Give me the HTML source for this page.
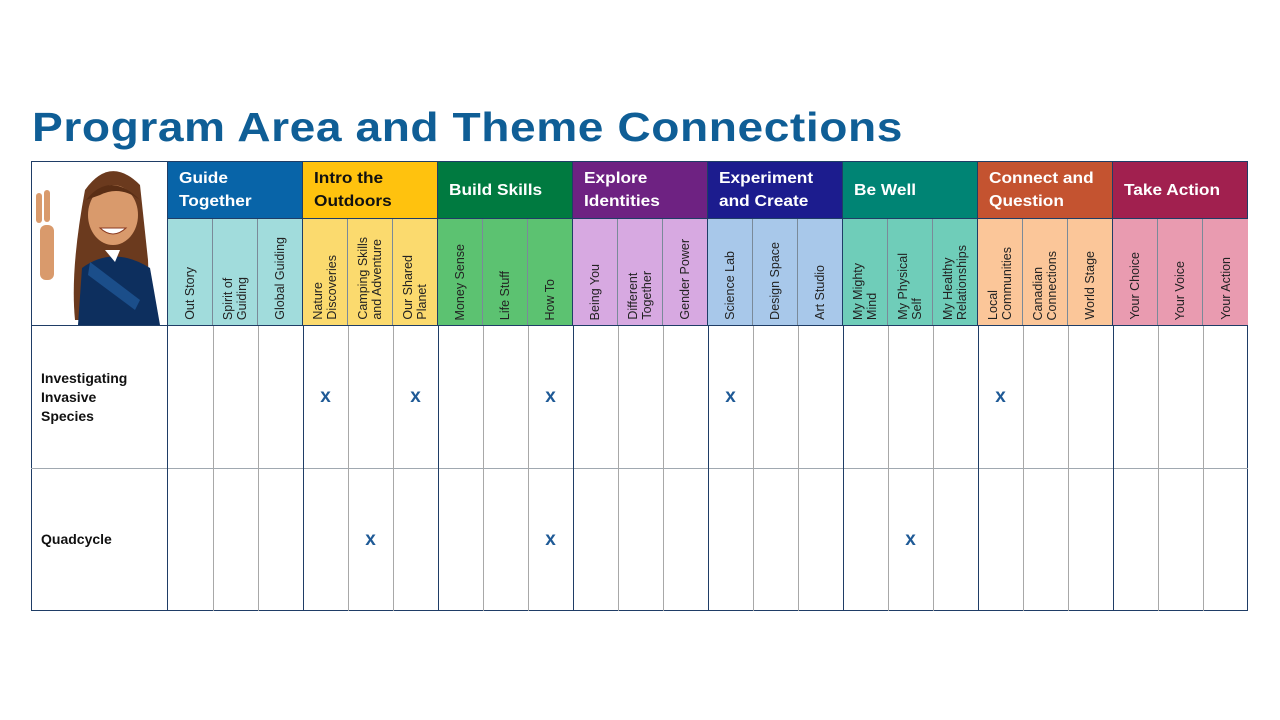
<!DOCTYPE html>
<html><head><meta charset="utf-8"><style>
body{margin:0;width:1280px;height:720px;background:#fff;position:relative;overflow:hidden;font-family:"Liberation Sans",sans-serif}
.a{position:absolute;box-sizing:border-box}
.title{left:32px;top:104px;font-size:41px;font-weight:bold;color:#0f5e96;letter-spacing:0.5px;transform:scaleX(1.125);transform-origin:left top;white-space:nowrap}
.h{color:#fff;font-weight:bold;font-size:16px;line-height:23px;padding-left:11px;display:flex;align-items:center;border-right:1px solid #1f3d66}
.h b{display:inline-block;transform:scaleX(1.08);transform-origin:left center}
.s{border-right:1px solid #7a8a99;display:flex;justify-content:center;align-items:flex-end;padding-bottom:5px}
.s span{writing-mode:vertical-rl;transform:rotate(180deg);font-size:12.5px;line-height:14px;color:#222;white-space:nowrap}
.x{color:#1f5a96;font-weight:bold;font-size:19px;width:45px;text-align:center}
.rl{font-weight:bold;font-size:14px;line-height:19px;color:#111}
</style></head><body>
<div class="a title">Program Area and Theme Connections</div>
<div class="a" style="left:31px;top:161px;width:1217px;height:450px;border:1px solid #1f3d66"></div>

<div class="a h" style="left:168px;top:162px;width:135px;height:56px;background:#0864a8"><b>Guide<br>Together</b></div>
<div class="a h" style="left:303px;top:162px;width:135px;height:56px;background:#ffc20e;color:#111"><b>Intro the<br>Outdoors</b></div>
<div class="a h" style="left:438px;top:162px;width:135px;height:56px;background:#007a40"><b>Build Skills</b></div>
<div class="a h" style="left:573px;top:162px;width:135px;height:56px;background:#6e2282"><b>Explore<br>Identities</b></div>
<div class="a h" style="left:708px;top:162px;width:135px;height:56px;background:#1c1c8e"><b>Experiment<br>and Create</b></div>
<div class="a h" style="left:843px;top:162px;width:135px;height:56px;background:#008474"><b>Be Well</b></div>
<div class="a h" style="left:978px;top:162px;width:135px;height:56px;background:#c45330"><b>Connect and<br>Question</b></div>
<div class="a h" style="left:1113px;top:162px;width:135px;height:56px;background:#a1204f"><b>Take Action</b></div>

<div class="a" style="left:168px;top:218px;width:1080px;height:1px;background:#1f3d66"></div>

<div class="a s" style="left:168px;top:219px;width:45px;height:106px;background:#a1dcdc"><span>Out Story</span></div>
<div class="a s" style="left:213px;top:219px;width:45px;height:106px;background:#a1dcdc"><span>Spirit of<br>Guiding</span></div>
<div class="a s" style="left:258px;top:219px;width:45px;height:106px;background:#a1dcdc;border-right-color:#1f3d66"><span>Global Guiding</span></div>
<div class="a s" style="left:303px;top:219px;width:45px;height:106px;background:#fbda6e"><span>Nature<br>Discoveries</span></div>
<div class="a s" style="left:348px;top:219px;width:45px;height:106px;background:#fbda6e"><span>Camping Skills<br>and Adventure</span></div>
<div class="a s" style="left:393px;top:219px;width:45px;height:106px;background:#fbda6e;border-right-color:#1f3d66"><span>Our Shared<br>Planet</span></div>
<div class="a s" style="left:438px;top:219px;width:45px;height:106px;background:#5cc271"><span>Money Sense</span></div>
<div class="a s" style="left:483px;top:219px;width:45px;height:106px;background:#5cc271"><span>Life Stuff</span></div>
<div class="a s" style="left:528px;top:219px;width:45px;height:106px;background:#5cc271;border-right-color:#1f3d66"><span>How To</span></div>
<div class="a s" style="left:573px;top:219px;width:45px;height:106px;background:#d7a9e1"><span>Being You</span></div>
<div class="a s" style="left:618px;top:219px;width:45px;height:106px;background:#d7a9e1"><span>Different<br>Together</span></div>
<div class="a s" style="left:663px;top:219px;width:45px;height:106px;background:#d7a9e1;border-right-color:#1f3d66"><span>Gender Power</span></div>
<div class="a s" style="left:708px;top:219px;width:45px;height:106px;background:#a8c8ea"><span>Science Lab</span></div>
<div class="a s" style="left:753px;top:219px;width:45px;height:106px;background:#a8c8ea"><span>Design Space</span></div>
<div class="a s" style="left:798px;top:219px;width:45px;height:106px;background:#a8c8ea;border-right-color:#1f3d66"><span>Art Studio</span></div>
<div class="a s" style="left:843px;top:219px;width:45px;height:106px;background:#6fcdb9"><span>My Mighty<br>Mind</span></div>
<div class="a s" style="left:888px;top:219px;width:45px;height:106px;background:#6fcdb9"><span>My Physical<br>Self</span></div>
<div class="a s" style="left:933px;top:219px;width:45px;height:106px;background:#6fcdb9;border-right-color:#1f3d66"><span>My Healthy<br>Relationships</span></div>
<div class="a s" style="left:978px;top:219px;width:45px;height:106px;background:#fbc699"><span>Local<br>Communities</span></div>
<div class="a s" style="left:1023px;top:219px;width:45px;height:106px;background:#fbc699"><span>Canadian<br>Connections</span></div>
<div class="a s" style="left:1068px;top:219px;width:45px;height:106px;background:#fbc699;border-right-color:#1f3d66"><span>World Stage</span></div>
<div class="a s" style="left:1113px;top:219px;width:45px;height:106px;background:#e99bb0"><span>Your Choice</span></div>
<div class="a s" style="left:1158px;top:219px;width:45px;height:106px;background:#e99bb0"><span>Your Voice</span></div>
<div class="a s" style="left:1203px;top:219px;width:45px;height:106px;background:#e99bb0;border-right:none"><span>Your Action</span></div>

<div class="a" style="left:31px;top:325px;width:1217px;height:1px;background:#1f3d66"></div>
<div class="a" style="left:31px;top:468px;width:1217px;height:1px;background:#a0a8b0"></div>
<div class="a" style="left:167px;top:161px;width:1px;height:450px;background:#1f3d66"></div>
<svg class="a" style="left:0;top:0" width="1280" height="720">
<g stroke="#a8a8a8" stroke-width="1">
<line x1="213.5" y1="326" x2="213.5" y2="611"/><line x1="258.5" y1="326" x2="258.5" y2="611"/>
<line x1="348.5" y1="326" x2="348.5" y2="611"/><line x1="393.5" y1="326" x2="393.5" y2="611"/>
<line x1="483.5" y1="326" x2="483.5" y2="611"/><line x1="528.5" y1="326" x2="528.5" y2="611"/>
<line x1="618.5" y1="326" x2="618.5" y2="611"/><line x1="663.5" y1="326" x2="663.5" y2="611"/>
<line x1="753.5" y1="326" x2="753.5" y2="611"/><line x1="798.5" y1="326" x2="798.5" y2="611"/>
<line x1="888.5" y1="326" x2="888.5" y2="611"/><line x1="933.5" y1="326" x2="933.5" y2="611"/>
<line x1="1023.5" y1="326" x2="1023.5" y2="611"/><line x1="1068.5" y1="326" x2="1068.5" y2="611"/>
<line x1="1158.5" y1="326" x2="1158.5" y2="611"/><line x1="1203.5" y1="326" x2="1203.5" y2="611"/>
</g>
<g stroke="#1f3d66" stroke-width="1">
<line x1="303.5" y1="326" x2="303.5" y2="611"/><line x1="438.5" y1="326" x2="438.5" y2="611"/>
<line x1="573.5" y1="326" x2="573.5" y2="611"/><line x1="708.5" y1="326" x2="708.5" y2="611"/>
<line x1="843.5" y1="326" x2="843.5" y2="611"/><line x1="978.5" y1="326" x2="978.5" y2="611"/>
<line x1="1113.5" y1="326" x2="1113.5" y2="611"/>
</g>
<path d="M85 190 Q110 155 140 185 L148 260 Q150 300 140 320 L75 320 Q70 270 85 190Z" fill="#6b3a1e"/>
<ellipse cx="113" cy="215" rx="25" ry="30" fill="#d99a6c"/>
<path d="M86 200 Q110 170 140 200 Q120 185 100 195Z" fill="#5a2e15"/>
<path d="M82 268 Q113 245 150 268 L160 325 L78 325Z" fill="#0d2f5e"/>
<path d="M105 250 L120 250 L115 262Z" fill="#fff"/>
<path d="M90 262 L140 300 L135 310 L88 275Z" fill="#1b4e8a"/>
<rect x="40" y="225" width="14" height="55" rx="6" fill="#d99a6c"/>
<rect x="36" y="193" width="6" height="30" rx="3" fill="#d99a6c"/>
<rect x="44" y="190" width="6" height="32" rx="3" fill="#d99a6c"/>
<path d="M100 228 Q113 240 126 228Z" fill="#fff" stroke="#8a3a20"/>
</svg>

<div class="a rl" style="left:41px;top:369px">Investigating<br>Invasive<br>Species</div>
<div class="a rl" style="left:41px;top:530px">Quadcycle</div>

<div class="a x" style="left:303px;top:386px">x</div>
<div class="a x" style="left:393px;top:386px">x</div>
<div class="a x" style="left:528px;top:386px">x</div>
<div class="a x" style="left:708px;top:386px">x</div>
<div class="a x" style="left:978px;top:386px">x</div>
<div class="a x" style="left:348px;top:529px">x</div>
<div class="a x" style="left:528px;top:529px">x</div>
<div class="a x" style="left:888px;top:529px">x</div>
</body></html>
